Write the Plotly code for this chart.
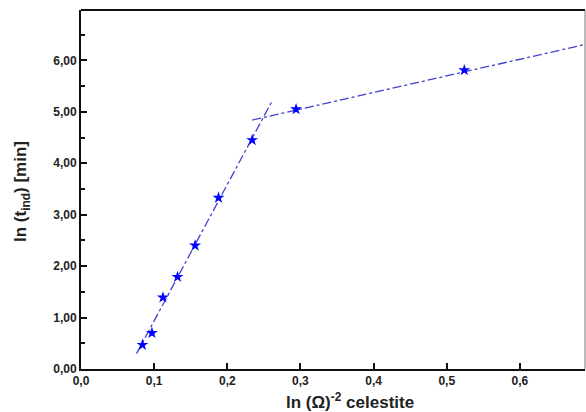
import plotly.graph_objects as go

# Data
x_pts = [0.084, 0.097, 0.112, 0.132, 0.156, 0.188, 0.234, 0.294, 0.524]
y_pts = [0.47, 0.70, 1.39, 1.79, 2.40, 3.33, 4.45, 5.05, 5.81]

fit1_x = [0.076, 0.262]
fit1_y = [0.30, 5.23]
fit2_x = [0.234, 0.689]
fit2_y = [4.84, 6.31]

x_ticks = [0.0, 0.1, 0.2, 0.3, 0.4, 0.5, 0.6]
y_ticks = [0, 1, 2, 3, 4, 5, 6]

W, H = 586, 412
L, R, T, B = 81, 1, 10, 43

fig = go.Figure()
line_col = "#4040d0"
fig.add_trace(go.Scatter(x=fit1_x, y=fit1_y, mode="lines",
                         line=dict(color=line_col, width=1.3, dash="dashdot"),
                         showlegend=False))
fig.add_trace(go.Scatter(x=fit2_x, y=fit2_y, mode="lines",
                         line=dict(color=line_col, width=1.3, dash="dashdot"),
                         showlegend=False))
fig.add_trace(go.Scatter(x=x_pts, y=y_pts, mode="markers",
                         marker=dict(symbol="star", size=9, color="#0000ff",
                                     line=dict(width=0)),
                         showlegend=False))

tickfont = dict(family="Liberation Sans, Arial, sans-serif", size=12,
                color="#222", weight="bold")

fig.update_layout(
    width=W, height=H,
    margin=dict(l=L, r=R, t=T, b=B),
    paper_bgcolor="white", plot_bgcolor="white",
    separators=",.",
    xaxis=dict(range=[0, 0.689], tickvals=x_ticks, tickformat=".1f",
               ticks="inside", ticklen=6, tickwidth=2, tickcolor="#111",
               showline=True, linewidth=2, linecolor="#111",
               showgrid=False, zeroline=False, tickfont=tickfont),
    yaxis=dict(range=[0, 6.98], tickvals=y_ticks, tickformat=".2f",
               ticks="inside", ticklen=6, tickwidth=2, tickcolor="#111",
               showline=True, linewidth=2, linecolor="#111",
               showgrid=False, zeroline=False, tickfont=tickfont,
               minor=dict(dtick=0.5, ticks="inside", ticklen=4,
                          tickwidth=2, tickcolor="#111")),
    shapes=[
        dict(type="line", xref="paper", yref="paper", x0=0, x1=1, y0=1, y1=1,
             line=dict(color="#111", width=2)),
        dict(type="line", xref="paper", yref="paper", x0=1, x1=1, y0=0, y1=1,
             line=dict(color="#777", width=1)),
    ],
    annotations=[
        dict(text="<b>ln (Ω)<sup>-2</sup> celestite</b>", xref="paper", yref="paper",
             x=(350 - L) / (W - L - R), y=-(401 - (H - B)) / (H - T - B),
             xanchor="center", yanchor="middle", showarrow=False,
             font=dict(family="Liberation Sans, Arial, sans-serif", size=17, color="#222")),
        dict(text="<b>ln (t<sub>ind</sub>) [min]</b>", xref="paper", yref="paper",
             x=(22 - L) / (W - L - R), y=(H - B - 192) / (H - T - B),
             xanchor="center", yanchor="middle", showarrow=False, textangle=-90,
             font=dict(family="Liberation Sans, Arial, sans-serif", size=17, color="#222")),
    ],
)

fig.write_html("out.html")
